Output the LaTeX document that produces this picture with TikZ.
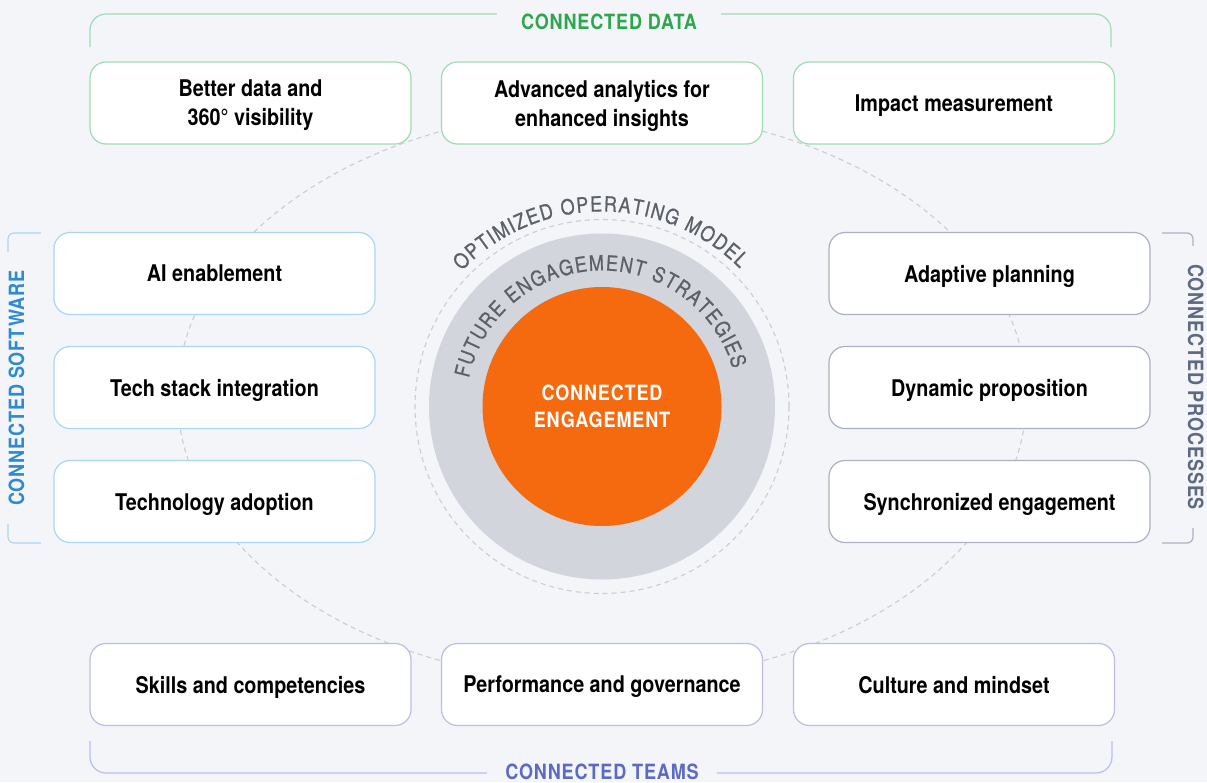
\documentclass[tikz,border=0pt]{standalone}
\usepackage{fontspec}
\setmainfont{TeX Gyre Heros}[FakeStretch=0.86]
\newfontfamily\spacedfont{TeX Gyre Heros}[FakeStretch=0.86,LetterSpace=4]
\newfontfamily\arcfont{TeX Gyre Heros}[FakeStretch=0.86,FakeBold=0.7]
\usetikzlibrary{decorations.text}

\definecolor{bgcol}{HTML}{F4F5F9}
\definecolor{coreorange}{HTML}{F5690F}
\definecolor{ringgray}{HTML}{D2D5DC}
\definecolor{dashgray}{HTML}{CACDD3}
\definecolor{arcgray}{HTML}{5C6068}
\definecolor{datagreen}{HTML}{2EA64E}
\definecolor{dataline}{HTML}{A2DBB1}
\definecolor{softblue}{HTML}{2E8BD0}
\definecolor{softline}{HTML}{ACD5F5}
\definecolor{procslate}{HTML}{5E6A82}
\definecolor{procline}{HTML}{ABB1C2}
\definecolor{teamblue}{HTML}{5B6BC1}
\definecolor{teamline}{HTML}{B7BFEA}

\begin{document}
\begin{tikzpicture}[%
    x=1pt, y=-1pt,
    mybox/.style={shape=rectangle, rounded corners=16pt, fill=white, line width=1.2pt,
        minimum width=321pt, minimum height=82pt, align=center, text depth=0pt,
        font=\fontsize{23}{29}\selectfont\bfseries},
    mytitle/.style={fill=bgcol, anchor=base, inner xsep=18pt, inner ysep=3pt,
        font=\fontsize{21}{21}\selectfont\spacedfont\bfseries},
    mybracket/.style={line width=1.2pt, rounded corners=#1},
    dashline/.style={draw=dashgray, line width=1.1pt, dash pattern=on 5pt off 4pt},
    arctext/.style={decorate, decoration={text along path, text align=fit to path,
        text color=arcgray, text={|\arcfont\fontsize{21}{21}\selectfont|#1}}}
]
\useasboundingbox (0,0) rectangle (1207,782);
\fill[bgcol] (0,0) rectangle (1207,782);

% dashed orbit behind the boxes
\draw[dashline] (602,396) ellipse [x radius=424.5pt, y radius=286pt];

% core circles
\coordinate (c) at (602,406.5);
\fill[ringgray] (c) circle [radius=173pt];
\draw[dashline] (c) circle [radius=187pt];
\fill[coreorange] (c) circle [radius=119.5pt];
\node[text=white, align=center, font=\fontsize{21}{27}\selectfont\spacedfont\bfseries]
    (core) at (c) {CONNECTED\\ENGAGEMENT};
\path[arctext=OPTIMIZED OPERATING MODEL]
    ([shift={(136:195pt)}]c) arc [start angle=136, end angle=45, radius=195pt];
\path[arctext=FUTURE ENGAGEMENT STRATEGIES]
    ([shift={(168:136pt)}]c) arc [start angle=168, end angle=16, radius=136pt];

% boxes
\foreach \name/\x/\txt in {d1/250.5/{Better data and\\360° visibility},
        d2/602/{Advanced analytics for\\enhanced insights}, d3/954/Impact measurement}
    \node[mybox, draw=dataline] (\name) at (\x,103) {\txt};
\foreach \name/\y/\txt in {s1/273.5/AI enablement, s2/387.5/Tech stack integration,
        s3/501.5/Technology adoption}
    \node[mybox, draw=softline] (\name) at (214.5,\y) {\txt};
\foreach \name/\y/\txt in {p1/273.5/Adaptive planning, p2/387.5/Dynamic proposition,
        p3/501.5/Synchronized engagement}
    \node[mybox, draw=procline] (\name) at (989.5,\y) {\txt};
\foreach \name/\x/\txt in {t1/250.5/Skills and competencies,
        t2/602/Performance and governance, t3/954/Culture and mindset}
    \node[mybox, draw=teamline] (\name) at (\x,684.5) {\txt};

% brackets
\draw[mybracket=16pt, dataline] (90,47) |- (1111,14) -- (1111,47);
\node[mytitle, text=datagreen, inner xsep=24pt] (datatitle) at (609,29) {CONNECTED DATA};
\draw[mybracket=16pt, teamline] (90,741) |- (1112,773) -- (1112,741);
\node[mytitle, text=teamblue, inner ysep=1pt] (teamtitle) at (602,779) {CONNECTED TEAMS};
\draw[mybracket=6pt, softline] (41,233) -| (8,543) -- (41,543);
\node[mytitle, text=softblue, rotate=90] (softtitle) at (24,388) {CONNECTED SOFTWARE};
\draw[mybracket=6pt, procline] (1162,233) -| (1193,543) -- (1162,543);
\node[mytitle, text=procslate, rotate=-90] (proctitle) at (1188,387) {CONNECTED PROCESSES};
\end{tikzpicture}
\end{document}
